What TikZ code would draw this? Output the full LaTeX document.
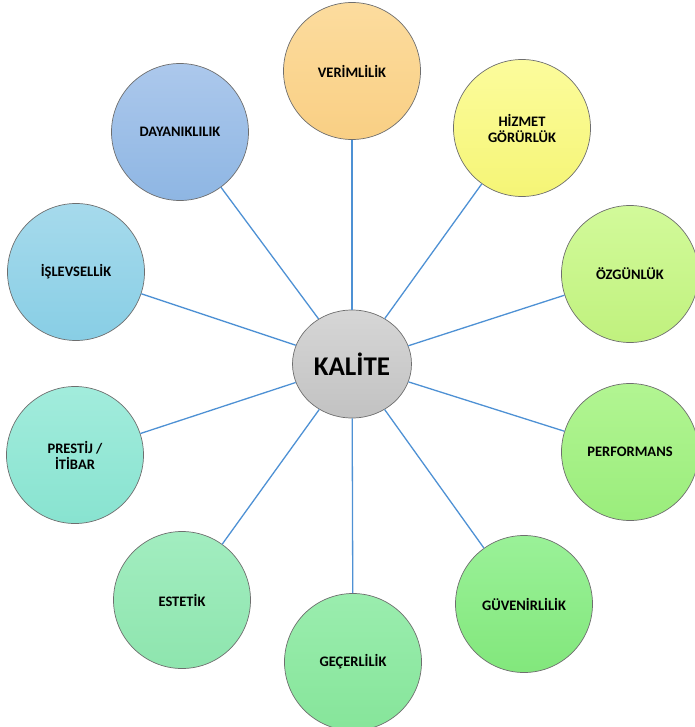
\documentclass[tikz,border=0pt]{standalone}
\usepackage{fontspec}
\setmainfont{Carlito}
\usepackage{xcolor}
\usetikzlibrary{shapes.geometric}
\definecolor{cizgimavi}{RGB}{78,145,212}
\definecolor{kenargri}{RGB}{110,110,110}
\definecolor{turuncuA}{RGB}{252,220,158}\definecolor{turuncuB}{RGB}{249,207,132}
\definecolor{sariA}{RGB}{252,252,156}\definecolor{sariB}{RGB}{245,245,118}
\definecolor{limonA}{RGB}{210,250,154}\definecolor{limonB}{RGB}{192,241,126}
\definecolor{yesilA}{RGB}{178,245,146}\definecolor{yesilB}{RGB}{154,237,124}
\definecolor{cimenA}{RGB}{154,241,152}\definecolor{cimenB}{RGB}{130,231,124}
\definecolor{naneA}{RGB}{154,237,174}\definecolor{naneB}{RGB}{134,229,154}
\definecolor{suA}{RGB}{162,237,192}\definecolor{suB}{RGB}{142,229,174}
\definecolor{turkuazA}{RGB}{162,236,220}\definecolor{turkuazB}{RGB}{136,227,208}
\definecolor{gokA}{RGB}{166,218,236}\definecolor{gokB}{RGB}{136,206,229}
\definecolor{maviA}{RGB}{172,200,236}\definecolor{maviB}{RGB}{142,182,227}
\definecolor{griA}{RGB}{214,214,214}\definecolor{griB}{RGB}{194,194,194}
\tikzset{
  daire/.style={circle,draw=kenargri,line width=0.7pt,minimum size=137pt,
    inner sep=0pt,align=center,font=\fontsize{14.5}{16}\selectfont\bfseries},
  merkez/.style={ellipse,draw=kenargri,line width=0.7pt,minimum width=119pt,
    minimum height=108pt,inner sep=0pt,top color=griA,bottom color=griB,
    font=\fontsize{27}{30}\selectfont\bfseries},
  renk/.style 2 args={top color=#1,bottom color=#2},
  baglanti/.style={cizgimavi,line width=1.3pt}
}
\begin{document}
\begin{tikzpicture}[x=1pt,y=-1pt]
\useasboundingbox (0,0) rectangle (694,727);
\node[merkez] (kalite) at (352,364) {KALİTE};
\node[daire,renk={turuncuA}{turuncuB}] (verim) at (352,71) {VERİMLİLİK};
\node[daire,renk={sariA}{sariB}] (hizmet) at (522,128) {HİZMET\\GÖRÜRLÜK};
\node[daire,renk={limonA}{limonB}] (ozgun) at (630,274) {ÖZGÜNLÜK};
\node[daire,renk={yesilA}{yesilB}] (perf) at (630,452) {PERFORMANS};
\node[daire,renk={cimenA}{cimenB}] (guven) at (524,604) {GÜVENİRLİLİK};
\node[daire,renk={naneA}{naneB}] (gecer) at (353,662) {GEÇERLİLİK};
\node[daire,renk={suA}{suB}] (estetik) at (182,600) {ESTETİK};
\node[daire,renk={turkuazA}{turkuazB}] (prestij) at (75,455) {PRESTİJ /\\İTİBAR};
\node[daire,renk={gokA}{gokB}] (islev) at (76,272) {İŞLEVSELLİK};
\node[daire,renk={maviA}{maviB}] (dayan) at (180,132) {DAYANIKLILIK};
% merkezden dallar
\foreach \dal in {verim,hizmet,ozgun,perf,guven,gecer,estetik,prestij,islev,dayan}
  \draw[baglanti] (kalite) -- (\dal);
\end{tikzpicture}
\end{document}
